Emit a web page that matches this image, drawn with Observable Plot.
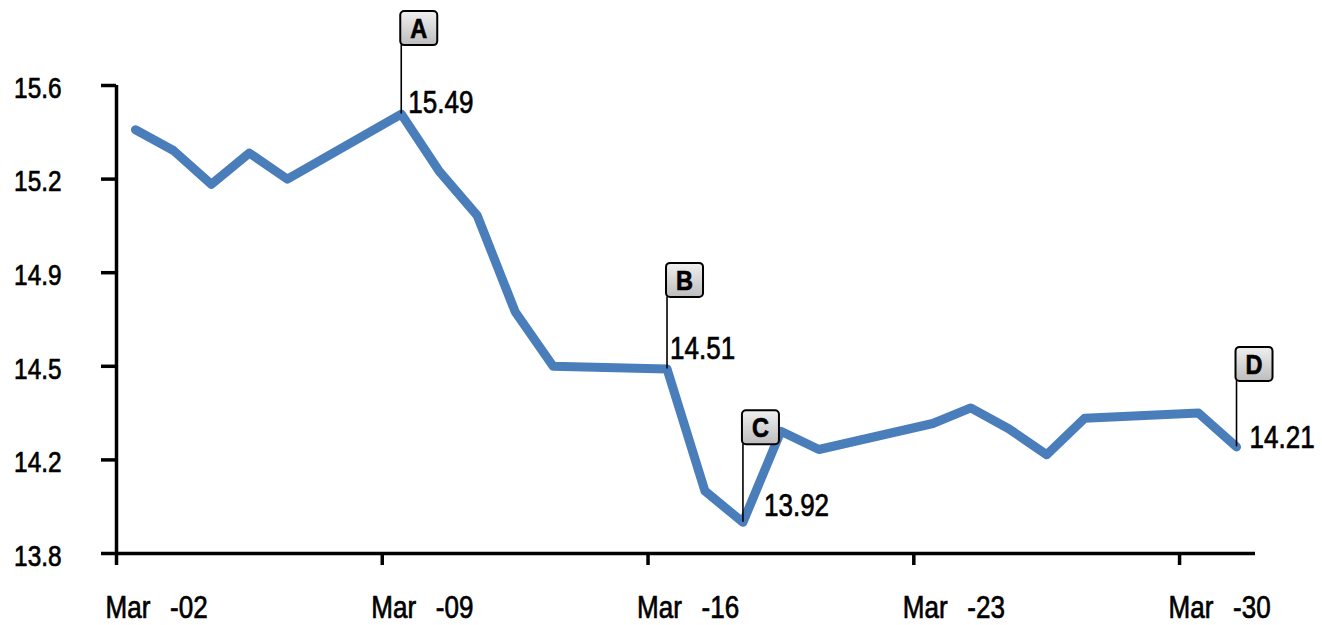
<!DOCTYPE html>
<html>
<head>
<meta charset="utf-8">
<script src="https://cdn.jsdelivr.net/npm/d3@7"></script>
<script src="https://cdn.jsdelivr.net/npm/@observablehq/plot@0.6"></script>
<style>
  html, body { margin: 0; padding: 0; background: #fff; }
  #chart svg { display: block; }
</style>
</head>
<body>
<div id="chart"></div>
<script>
// ---- Data ----
const dates = [
  "2020-03-02","2020-03-03","2020-03-04","2020-03-05","2020-03-06",
  "2020-03-09","2020-03-10","2020-03-11","2020-03-12","2020-03-13",
  "2020-03-16","2020-03-17","2020-03-18","2020-03-19","2020-03-20",
  "2020-03-23","2020-03-24","2020-03-25","2020-03-26","2020-03-27",
  "2020-03-30","2020-03-31"
];
const values = [
  15.43, 15.35, 15.22, 15.34, 15.24,
  15.49, 15.27, 15.10, 14.73, 14.52,
  14.51, 14.04, 13.92, 14.27, 14.20,
  14.30, 14.36, 14.28, 14.18, 14.32,
  14.34, 14.21
];
const yTicks = [13.8, 14.16, 14.52, 14.88, 15.24, 15.6];
const xTickDates = ["2020-03-02","2020-03-09","2020-03-16","2020-03-23","2020-03-30"];
const xTickLabels = ["Mar\u00a0\u00a0\u2009-02","Mar\u00a0\u00a0\u2009-09","Mar\u00a0\u00a0\u2009-16","Mar\u00a0\u00a0\u2009-23","Mar\u00a0\u00a0\u2009-30"];
const annotLetters = ["A","B","C","D"];
const annotDates = ["2020-03-09","2020-03-16","2020-03-18","2020-03-31"];

// ---- Build table ----
const dayCenter = s => new Date(s + "T12:00:00Z");
const dayStart = s => new Date(s + "T00:00:00Z");
const series = dates.map((d, i) => ({date: dayCenter(d), value: values[i]}));
const annots = annotLetters.map((letter, i) => {
  const idx = dates.indexOf(annotDates[i]);
  return {letter, date: dayCenter(annotDates[i]), value: values[idx]};
});
const tickDates = xTickDates.map(dayStart);
const labelByTime = new Map(tickDates.map((d, i) => [+d, xTickLabels[i]]));

// ---- Styles ----
const FONT = "'Liberation Sans', Arial, sans-serif";
const CONDENSE = 0.84;
const annotStyle = {
  A: {lift: 69, dx: 7, dy: -1},
  B: {lift: 72, dx: 3, dy: -10},
  C: {lift: 78, dx: 21, dy: -6},
  D: {lift: 66, dx: 13, dy: 1}
};
const roundBox = {
  draw(ctx) {
    const w = 18.5, h = 17, r = 4;
    ctx.moveTo(-w + r, -h);
    ctx.lineTo(w - r, -h);
    ctx.arcTo(w, -h, w, -h + r, r);
    ctx.lineTo(w, h - r);
    ctx.arcTo(w, h, w - r, h, r);
    ctx.lineTo(-w + r, h);
    ctx.arcTo(-w, h, -w, h - r, r);
    ctx.lineTo(-w, -h + r);
    ctx.arcTo(-w, -h, -w + r, -h, r);
    ctx.closePath();
  }
};

const annotMarks = annots.flatMap(a => {
  const s = annotStyle[a.letter];
  return [
    Plot.ruleX([a], {x: "date", y1: "value", y2: "value", insetTop: -s.lift, stroke: "#000", strokeWidth: 1.6}),
    Plot.dot([a], {x: "date", y: "value", symbol: roundBox, r: 10, dx: 17.5, dy: -s.lift - 17,
      fill: "url(#boxGrad)", stroke: "#000", strokeWidth: 2}),
    Plot.text([a], {x: "date", y: "value", text: "letter", dx: 17.5, dy: -s.lift - 16,
      fontWeight: "bold", fontSize: 28, fill: "#000", ariaLabel: "box-letter"}),
    Plot.text([a], {x: "date", y: "value", text: d => d3.format(".2f")(d.value),
      textAnchor: "start", dx: s.dx, dy: s.dy - 0.32 * 31, fontSize: 31, fill: "#000"})
  ];
});

const chart = Plot.plot({
  width: 1322,
  height: 625,
  marginLeft: 116,
  marginRight: 67,
  marginTop: 85,
  marginBottom: 72,
  style: {fontFamily: FONT, fontSize: "30px", color: "#000", background: "#fff", overflow: "visible"},
  x: {type: "utc", domain: [dayStart("2020-03-02"), dayStart("2020-04-01")]},
  y: {domain: [13.8, 15.6]},
  marks: [
    // tick marks only
    Plot.axisY({ticks: yTicks, tickFormat: () => "", tickSize: 15, strokeWidth: 3.5, label: null}),
    Plot.axisX({ticks: tickDates, tickFormat: () => "", tickSize: 12, strokeWidth: 3.5, label: null}),
    // tick labels
    Plot.text(yTicks, {y: d => d, text: d => d3.format(".1f")(d), frameAnchor: "left",
      textAnchor: "end", dx: -55, dy: 3, fontSize: 29, fill: "#000"}),
    Plot.text(tickDates, {x: d => d, text: d => labelByTime.get(+d), frameAnchor: "bottom",
      textAnchor: "start", lineAnchor: "top", dx: -11, dy: 42, fontSize: 31, fill: "#000"}),
    // axis lines
    Plot.ruleY([13.8], {strokeWidth: 3.5, stroke: "#000"}),
    Plot.ruleX([dayStart("2020-03-02")], {strokeWidth: 3.5, stroke: "#000"}),
    // series
    Plot.line(series, {x: "date", y: "value", stroke: "#4a7ebb", strokeWidth: 9,
      strokeLinejoin: "round", strokeLinecap: "round"}),
    ...annotMarks
  ]
});

// gradient for the annotation boxes
const ns = "http://www.w3.org/2000/svg";
const defs = document.createElementNS(ns, "defs");
const grad = document.createElementNS(ns, "linearGradient");
grad.setAttribute("id", "boxGrad");
grad.setAttribute("x1", "0"); grad.setAttribute("y1", "0");
grad.setAttribute("x2", "0"); grad.setAttribute("y2", "1");
[["0", "#f0f0f0"], ["1", "#bdbdbd"]].forEach(([o, c]) => {
  const st = document.createElementNS(ns, "stop");
  st.setAttribute("offset", o);
  st.setAttribute("stop-color", c);
  grad.appendChild(st);
});
defs.appendChild(grad);
chart.insertBefore(defs, chart.firstChild);

// narrow (condensed), slightly heavier look for the regular labels
chart.querySelectorAll("text").forEach(t => {
  if (t.closest('[aria-label="box-letter"]')) return;
  if (!t.textContent) return;
  const tr = t.getAttribute("transform");
  if (tr) {
    t.setAttribute("transform", tr + ` scale(${CONDENSE},1)`);
  } else {
    const x = +(t.getAttribute("x") || 0);
    t.setAttribute("transform", `translate(${x},0) scale(${CONDENSE},1) translate(${-x},0)`);
  }
  t.style.stroke = "#000";
  t.style.strokeWidth = "0.7px";
});

document.getElementById("chart").appendChild(chart);
</script>
</body>
</html>
